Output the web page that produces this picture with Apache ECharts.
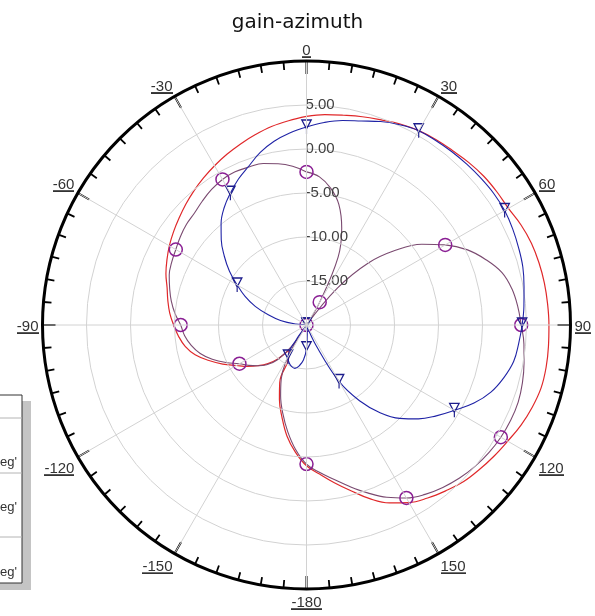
<!DOCTYPE html>
<html><head><meta charset="utf-8">
<script src="https://cdn.jsdelivr.net/npm/echarts@6/dist/echarts.min.js"></script>
<style>html,body{margin:0;padding:0;background:#fff}#c{width:595px;height:616px}</style>
</head><body><div id="c"></div>
<script>
// azimuth angles in degrees (-180..180)
const angles = [0,5,10,15,20,25,30,35,40,45,50,55,60,65,70,75,80,85,90,95,100,105,110,115,120,125,130,135,140,145,150,155,160,165,170,175,180,
  -175,-170,-165,-160,-155,-150,-145,-140,-135,-130,-125,-120,-115,-110,-105,-100,-95,-90,-85,-80,-75,-70,-65,-60,-55,-50,-45,-40,-35,-30,-25,-20,-15,-10,-5];

// gain (dB)
const redGain = [3.7,4.0,4.2,4.5,4.8,5.2,5.5,5.7,5.85,6.1,6.3,6.4,6.5,6.9,7.2,7.35,7.45,7.5,7.55,7.6,7.65,7.6,7.3,6.9,6.4,6.0,5.6,5.2,4.6,4.0,3.3,2.3,1.0,-0.5,-1.8,-3.0,-4.0,
  -5.5,-7.2,-9.2,-11.0,-12.8,-16.0,-16.5,-15.0,-13.8,-12.8,-11.8,-10.8,-9.5,-8.2,-6.9,-6.0,-5.4,-4.9,-4.4,-4.0,-3.6,-3.0,-2.5,-2.0,-1.55,-1.1,-0.6,-0.1,0.4,0.9,1.4,1.9,2.4,2.9,3.3];

const purpleGain = [-2.6,-3.1,-4.2,-5.8,-8.3,-11.5,-17.0,-20,-14.5,-10.0,-6.8,-4.0,-1.8,0.2,1.7,3.0,3.7,4.1,4.4,4.8,5.1,5.4,5.6,5.6,5.5,5.3,5.0,4.6,4.1,3.5,2.7,1.6,0.3,-1.0,-2.2,-3.2,-4.2,
  -5.8,-7.7,-9.6,-11.4,-13.2,-20,-17.0,-14.8,-13.6,-12.8,-12.0,-11.2,-9.9,-8.6,-7.5,-6.7,-6.1,-5.7,-5.0,-4.4,-3.9,-3.4,-3.1,-2.85,-2.5,-2.2,-2.0,-1.6,-1.2,-0.9,-0.8,-0.9,-1.0,-1.4,-1.9];

const blueGain = [2.5,3.1,3.6,4.0,4.6,5.1,5.5,5.6,5.7,5.8,5.9,6.0,6.0,5.85,5.65,5.45,5.1,4.8,4.5,4.2,3.9,3.2,2.3,1.0,-0.6,-2.0,-3.4,-5.0,-7.0,-9.5,-12.6,-17.5,-20,-20,-20,-19.0,-17.3,
  -16.0,-15.3,-14.9,-15.0,-15.3,-15.8,-18.0,-20,-20,-20,-20,-20,-20,-20,-20,-20,-20,-20,-18.8,-17.0,-15.5,-13.8,-12.3,-10.9,-9.3,-7.8,-6.3,-4.9,-3.7,-2.7,-1.7,-0.8,0.3,1.2,1.9];

const angleLabels = ['0','30','60','90','120','150','-180','-150','-120','-90','-60','-30'];
const radiusTicks = [-15,-10,-5,0,5];
const legendNames = ["dB(GainTotal) Setup1 : LastAdaptive Freq='2.45GHz' Theta='90deg'",
                     "dB(GainTotal) Setup1 : LastAdaptive Freq='2.45GHz' Phi='0deg'",
                     "dB(GainTotal) Setup1 : LastAdaptive Freq='2.45GHz' Phi='90deg'"];

function toData(vals){
  const d = angles.map((a,i)=>[vals[i], a < 0 ? a + 360 : a]);
  d.push([vals[0], 360]);
  return d;
}
function underlineImg(){
  const c = document.createElement('canvas'); c.width = 4; c.height = 20;
  const g = c.getContext('2d'); g.fillStyle = '#333'; g.fillRect(0, 18, 4, 2);
  return c;
}
const ul = underlineImg();
const FONT = '"Liberation Sans", Arial, sans-serif';
const isMarker = v => (v[1] % 30 === 0) && v[1] !== 360;
const triPath = 'path://M0,0L12,0L6,9ZM6,9L6,14';

const chart = echarts.init(document.getElementById('c'), null, {renderer:'canvas'});
chart.setOption({
  animation: false,
  title: {text:'gain-azimuth', left:'center', top: 8, textStyle:{fontFamily:'"DejaVu Sans", sans-serif', fontSize:20, fontWeight:'normal', color:'#111'}},
  polar: {center:[306.5, 325], radius: 264},
  angleAxis: {
    type:'value', min:0, max:360, interval:30, startAngle:90, clockwise:true, z: 5,
    axisLine:{show:true, lineStyle:{color:'#000', width:3}},
    axisTick:{show:true, inside:true, length:13, lineStyle:{color:'#000', width:2}},
    minorTick:{show:true, splitNumber:6, length:8, lineStyle:{color:'#000', width:1.8}},
    splitLine:{show:true, lineStyle:{color:'#d2d2d2', width:1}},
    axisLabel:{margin:4, formatter: v => { const i = Math.round(v/30); return (v >= 360) ? '' : '{u|' + angleLabels[i] + '}'; },
      rich:{u:{backgroundColor:{image: ul}, fontSize:15, fontFamily:FONT, color:'#333', lineHeight:16, padding:[3,0,0,0]}}}
  },
  radiusAxis: {
    type:'value', min:-20, max:10, interval:5, z: 4,
    axisLine:{show:false}, axisTick:{show:false},
    splitLine:{show:true, lineStyle:{color:'#d2d2d2', width:1}},
    axisLabel:{show:true, align:'left', verticalAlign:'middle', margin:1, fontSize:15, fontFamily:FONT, color:'#404040',
      formatter: v => radiusTicks.indexOf(v) >= 0 ? v.toFixed(2) : ''}
  },
  series: [
    {type:'line', name:legendNames[0], coordinateSystem:'polar', data: toData(redGain), smooth:0.4, showSymbol:false, symbol:'none',
     lineStyle:{color:'#e0282a', width:1.2}, z: 2},
    {type:'line', name:legendNames[1], coordinateSystem:'polar', data: toData(purpleGain), smooth:0.4,
     symbol: v => isMarker(v) ? 'circle' : 'none', symbolSize: 13,
     itemStyle:{color:'rgba(255,255,255,0)', borderColor:'#8a1f94', borderWidth:1.5},
     lineStyle:{color:'#7a4a70', width:1.1}, z: 3},
    {type:'line', name:legendNames[2], coordinateSystem:'polar', data: toData(blueGain), smooth:0.4,
     symbol: v => isMarker(v) ? triPath : 'none', symbolSize: [11, 14], symbolKeepAspect: true,
     itemStyle:{color:'rgba(255,255,255,0)', borderColor:'#1c1c8c', borderWidth:1.3},
     lineStyle:{color:'#1f23a6', width:1.1}, z: 4}
  ],
  graphic: [
    {type:'rect', shape:{x:-200, y:401, width:231, height:189}, style:{fill:'#c4c4c4'}, z:10},
    {type:'rect', shape:{x:-200, y:395, width:222, height:188}, style:{fill:'#fff', stroke:'#333', lineWidth:1}, z:11},
    {type:'line', shape:{x1:-200, y1:418, x2:22, y2:418}, style:{stroke:'#b4b4b4', lineWidth:1}, z:12},
    {type:'line', shape:{x1:-200, y1:473, x2:22, y2:473}, style:{stroke:'#b4b4b4', lineWidth:1}, z:12},
    {type:'line', shape:{x1:-200, y1:537, x2:22, y2:537}, style:{stroke:'#b4b4b4', lineWidth:1}, z:12},
    {type:'text', x:17, y:462, style:{text:legendNames[0], align:'right', verticalAlign:'middle', font:'13px "Liberation Sans", Arial, sans-serif', fill:'#333'}, z:12},
    {type:'text', x:17, y:507, style:{text:legendNames[1], align:'right', verticalAlign:'middle', font:'13px "Liberation Sans", Arial, sans-serif', fill:'#333'}, z:12},
    {type:'text', x:17, y:572, style:{text:legendNames[2], align:'right', verticalAlign:'middle', font:'13px "Liberation Sans", Arial, sans-serif', fill:'#333'}, z:12}
  ]
});
</script></body></html>
